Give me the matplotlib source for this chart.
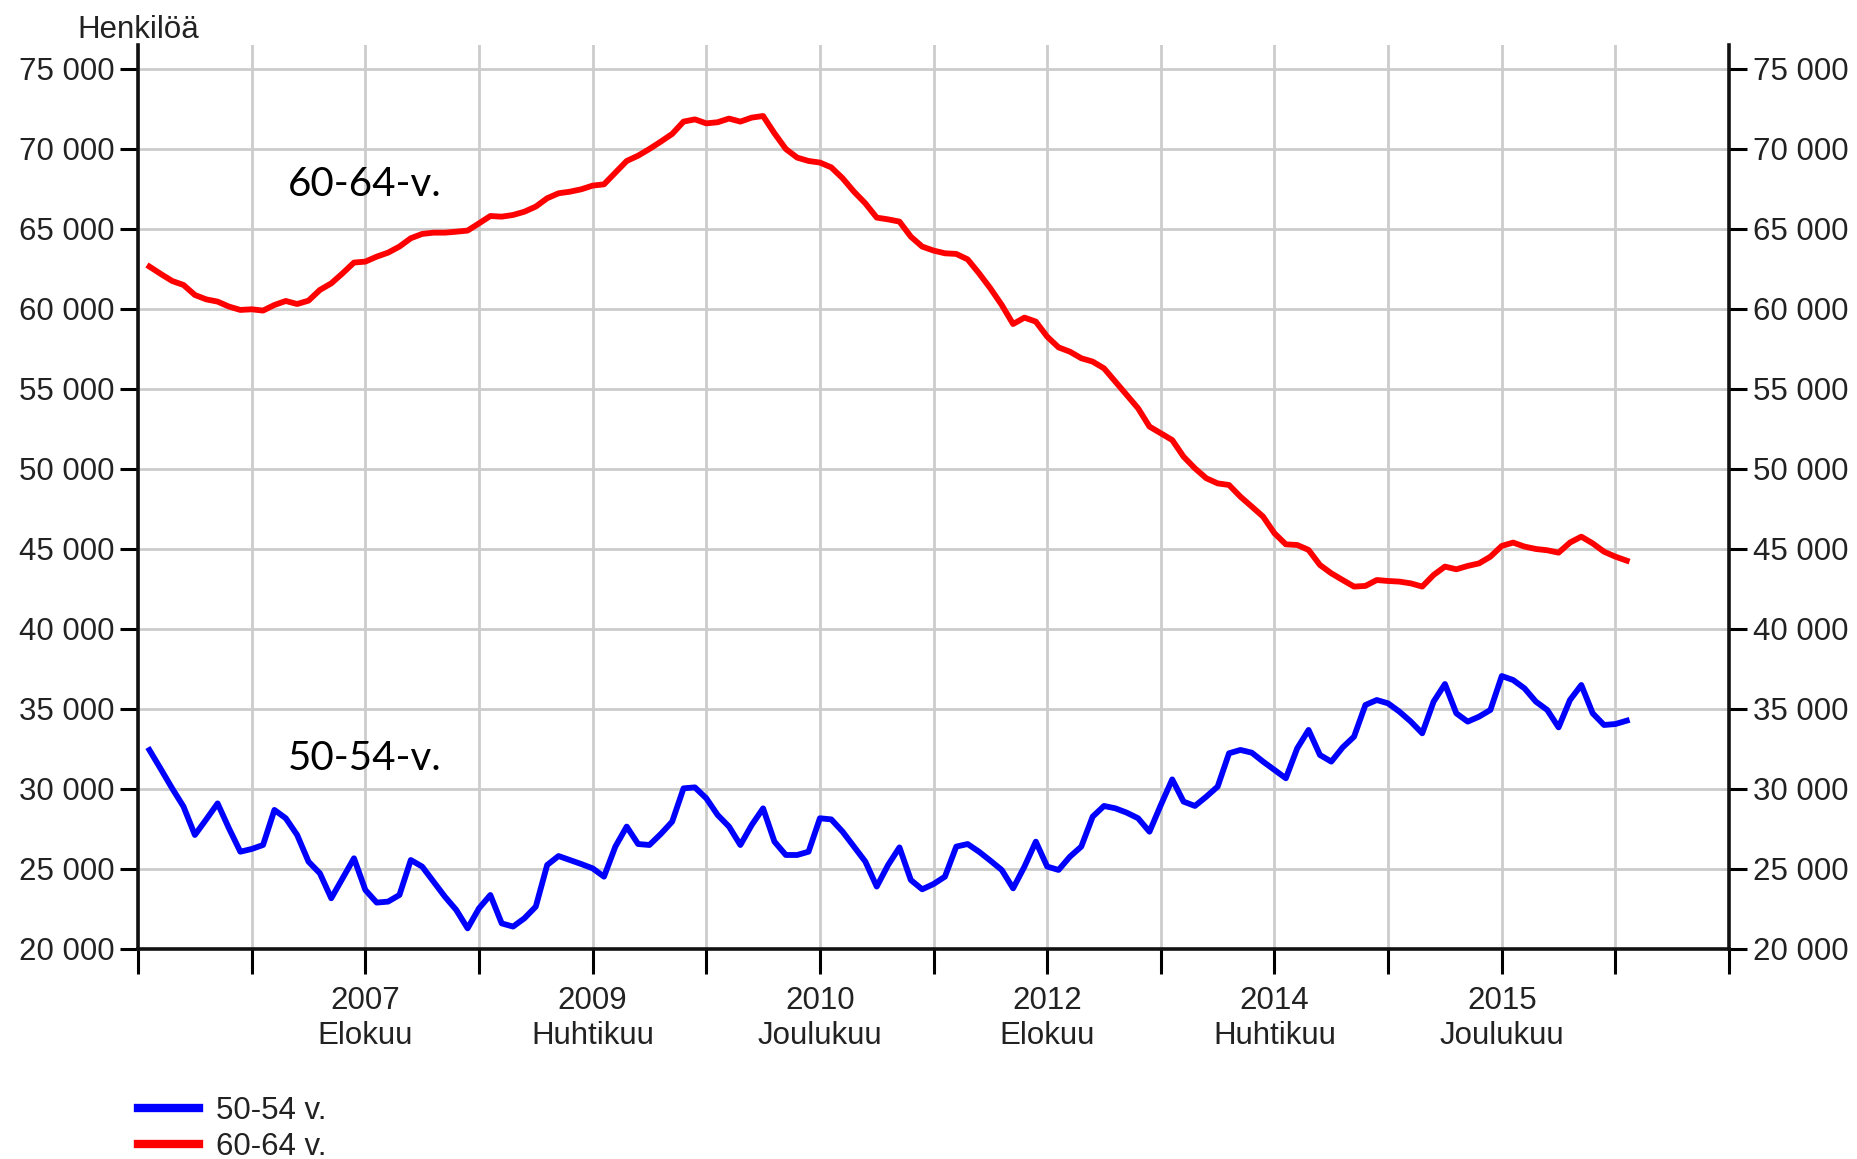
import numpy as np
import matplotlib
matplotlib.use("Agg")
import matplotlib.pyplot as plt
from matplotlib.lines import Line2D

# monthly values, first point = January 2006 (month 1, month 0 = Dec 2005)
age_50_54 = [32437, 31250, 30040, 28900, 27125, 28100, 29100, 27540, 26080, 26250,
             26500, 28690, 28170, 27125, 25460, 24730, 23170, 24420, 25670, 23690,
             22900, 22960, 23375, 25560, 25150, 24210, 23270, 22440, 21290, 22540,
             23375, 21600, 21400, 21920, 22650, 25250, 25810, 25560, 25310, 25040,
             24520, 26400, 27650, 26560, 26500, 27190, 27960, 30040, 30100, 29420,
             28375, 27650, 26500, 27750, 28790, 26710, 25875, 25875, 26080, 28170,
             28100, 27330, 26400, 25460, 23900, 25250, 26350, 24310, 23730, 24060,
             24520, 26400, 26560, 26080, 25520, 24940, 23790, 25150, 26710, 25150,
             24940, 25770, 26400, 28270, 28940, 28790, 28520, 28170, 27330, 29000,
             30600, 29210, 28940, 29520, 30150, 32230, 32440, 32270, 31710, 31190,
             30670, 32540, 33690, 32125, 31710, 32600, 33270, 35250, 35560, 35350,
             34830, 34210, 33480, 35460, 36560, 34730, 34210, 34520, 34940, 37060,
             36810, 36290, 35460, 34940, 33850, 35560, 36500, 34730, 34000, 34060,
             34270]

age_60_64 = [62650, 62190, 61750, 61500, 60875, 60600, 60460, 60150, 59940, 59980,
             59900, 60250, 60500, 60310, 60520, 61190, 61600, 62230, 62900, 62960,
             63270, 63520, 63900, 64420, 64690, 64770, 64770, 64830, 64900, 65350,
             65810, 65770, 65875, 66080, 66400, 66920, 67230, 67330, 67480, 67710,
             67790, 68520, 69250, 69580, 70000, 70460, 70940, 71710, 71850, 71600,
             71670, 71900, 71710, 71960, 72060, 70980, 70000, 69460, 69250, 69150,
             68850, 68170, 67330, 66600, 65710, 65600, 65460, 64520, 63900, 63650,
             63480, 63440, 63100, 62230, 61290, 60250, 59060, 59460, 59210, 58270,
             57600, 57330, 56920, 56710, 56290, 55460, 54625, 53790, 52650, 52230,
             51810, 50770, 50040, 49420, 49100, 49000, 48270, 47650, 47020, 45980,
             45290, 45250, 44940, 44000, 43480, 43060, 42650, 42690, 43060, 43000,
             42960, 42850, 42650, 43375, 43900, 43730, 43940, 44100, 44520, 45190,
             45400, 45150, 45000, 44920, 44770, 45400, 45770, 45350, 44830, 44520,
             44270]

months = np.arange(1, len(age_50_54) + 1)

tick_labels = ["2007\nElokuu", "2009\nHuhtikuu", "2010\nJoulukuu",
               "2012\nElokuu", "2014\nHuhtikuu", "2015\nJoulukuu"]
y_ticks = list(range(20000, 75001, 5000))

plt.rcParams["font.family"] = ["Liberation Sans", "DejaVu Sans"]
fs = 22.5

fig = plt.figure(figsize=(18.58, 11.59), dpi=100)
ax = fig.add_axes([0.0743, 0.1812, 0.8563, 0.78])

ax.plot(months, age_50_54, color="#0000ff", lw=4.2, solid_joinstyle="round")
ax.plot(months, age_60_64, color="#ff0000", lw=4.2, solid_joinstyle="round")

ax.set_xlim(0, 140)
ax.set_ylim(20000, 76500)

# x ticks every 10 months, labels every 20
ax.set_xticks(range(0, 141, 10))
ax.set_xticklabels(["" if i % 20 or i == 0 or i == 140 else tick_labels[i // 20 - 1]
                    for i in range(0, 141, 10)])
ax.set_yticks(y_ticks)
ax.set_yticklabels([f"{v:,}".replace(",", " ") for v in y_ticks])

ax.tick_params(axis="x", length=18, width=2.2, direction="out", pad=9,
               labelsize=fs, labelcolor="#222222")
ax.tick_params(axis="y", length=13, width=2.2, direction="out", pad=4,
               labelsize=fs, labelcolor="#222222", right=True, labelright=True)

ax.grid(True, color="#cccccc", lw=2)
ax.set_axisbelow(True)

for side in ["left", "right", "bottom"]:
    ax.spines[side].set_linewidth(2.6)
    ax.spines[side].set_color("#111111")
ax.spines["top"].set_visible(False)

ax.text(-0.038, 1.0, "Henkilöä", transform=ax.transAxes, fontsize=fs,
        color="#222222", ha="left", va="bottom")

# series names inside the plot
ax.text(13.2, 67800, "60-64-v.", fontsize=29, family="Lato", va="center", ha="left")
ax.text(13.2, 31900, "50-54-v.", fontsize=29, family="Lato", va="center", ha="left")

handles = [Line2D([], [], color="#0000ff", lw=6),
           Line2D([], [], color="#ff0000", lw=6)]
fig.legend(handles, ["50-54 v.", "60-64 v."], loc="upper left",
           bbox_to_anchor=(0.066, 0.068), frameon=False, fontsize=fs,
           handlelength=1.95, handletextpad=0.55, labelspacing=0.2,
           borderpad=0, labelcolor="#222222")

fig.savefig("out.png", dpi=100)
